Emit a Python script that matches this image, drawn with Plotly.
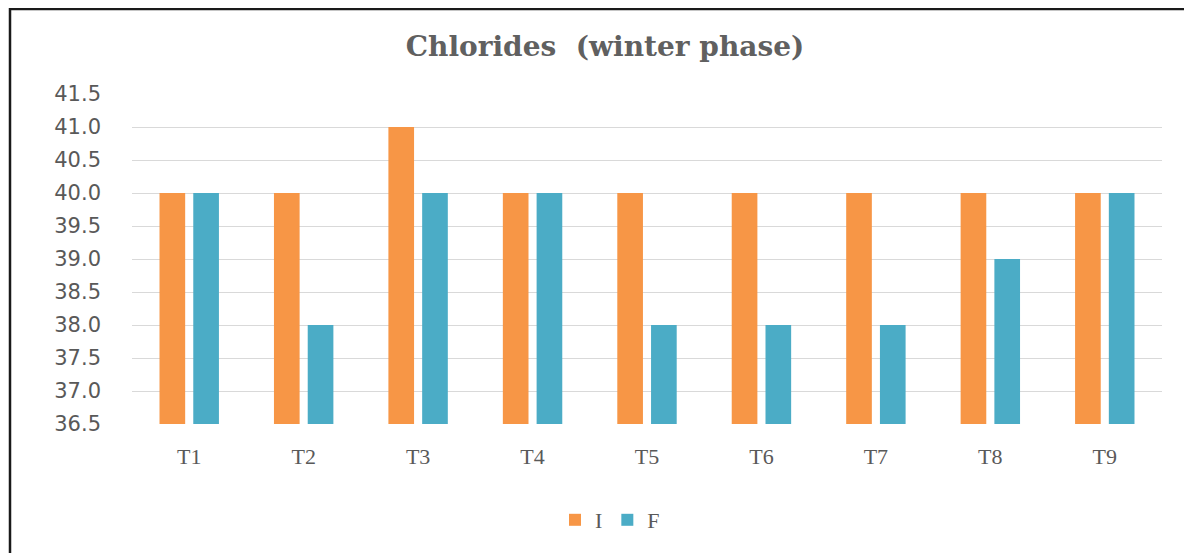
import plotly.graph_objects as go

categories = ["T1", "T2", "T3", "T4", "T5", "T6", "T7", "T8", "T9"]
series_I = [40, 40, 41, 40, 40, 40, 40, 40, 40]
series_F = [40, 38, 40, 40, 38, 38, 38, 39, 40]
tick_vals = [36.5, 37.0, 37.5, 38.0, 38.5, 39.0, 39.5, 40.0, 40.5, 41.0, 41.5]

W, H = 1192, 553
OFF = 8  # page body margin offset
# plot area in page pixels
PL, PR, PT, PB = 132, 1162, 94, 424
L, T = PL - OFF, PT - OFF
pw, ph = PR - PL, PB - PT
R, B = W - L - pw, H - T - ph

def px_x(x):
    return (x - OFF - L) / pw

def px_y(y):
    return 1 - (y - OFF - T) / ph

fig = go.Figure()
fig.add_trace(go.Bar(x=categories, y=series_I, name="I", marker_color="#F79646",
                     marker_line_width=0))
fig.add_trace(go.Bar(x=categories, y=series_F, name="F", marker_color="#4BACC6",
                     marker_line_width=0))

fig.update_layout(
    width=W, height=H,
    margin=dict(l=L, r=R, t=T, b=B),
    paper_bgcolor="white", plot_bgcolor="white",
    barmode="group", bargap=0.41, bargroupgap=0.24,
    title=dict(text="<b>Chlorides  (winter phase)</b>", x=px_x(605), xanchor="center",
               y=1 - (46 - OFF) / H, yanchor="middle", xref="paper",
               font=dict(family="DejaVu Serif", size=28, color="#606060")),
    xaxis=dict(showgrid=False, showline=False, ticks="",
               tickfont=dict(family="Liberation Serif", size=22, color="#595959"),
               ticklabelstandoff=17),
    yaxis=dict(range=[36.5, 41.5], tickvals=tick_vals,
               ticktext=[f"{v:.1f}" for v in tick_vals],
               showgrid=True, gridcolor="#D9D9D9", gridwidth=1.3,
               zeroline=False, showline=False, ticks="",
               tickfont=dict(family="DejaVu Sans", size=21, color="#595959"),
               ticklabelstandoff=30),
    legend=dict(orientation="h", x=px_x(610), xanchor="center", y=px_y(520), yanchor="middle",
                font=dict(family="Liberation Serif", size=22, color="#595959"),
                itemwidth=30, traceorder="normal"),
    showlegend=True,
    shapes=[dict(type="rect", xref="paper", yref="paper",
                 x0=px_x(10), x1=px_x(1230), y0=px_y(9), y1=px_y(600),
                 line=dict(color="#1a1a1a", width=2.5), layer="above")],
)
fig.write_html("out.html")
